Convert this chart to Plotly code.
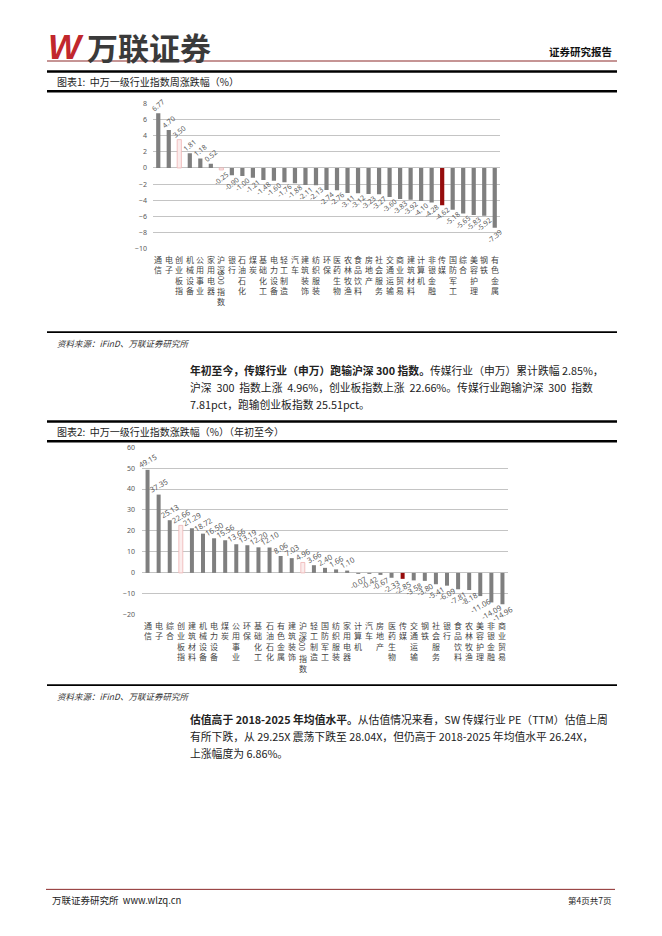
import plotly.graph_objects as go

# page size in px
W, H = 662, 936


def px(x):
    return x / W


def py(y):
    return 1 - y / H


# ---- data: chart 1, weekly change (%) ----
week_names = ['通信', '电子', '创业板指', '机械设备', '公用事业', '家用电器', '沪深300指数',
              '银行', '石油石化', '煤炭', '基础化工', '电力设备', '轻工制造', '汽车',
              '建筑装饰', '纺织服装', '环保', '医药生物', '农林牧渔', '食品饮料', '房地产',
              '社会服务', '交通运输', '商业贸易', '建筑材料', '计算机', '非银金融', '传媒',
              '国防军工', '综合', '美容护理', '钢铁', '有色金属']
week_pct = [6.77, 4.70, 3.50, 1.81, 1.18, 0.52, -0.25, -0.90, -1.00, -1.21, -1.48, -1.60,
            -1.76, -1.88, -2.11, -2.13, -2.74, -2.76, -3.11, -3.12, -3.23, -3.27, -3.60,
            -3.83, -3.92, -4.10, -4.28, -4.62, -5.18, -5.65, -5.83, -5.92, -7.39]

# ---- data: chart 2, year to date (%) ----
ytd_names = ['通信', '电子', '综合', '创业板指', '建筑材料', '机械设备', '电力设备', '煤炭',
             '公用事业', '环保', '基础化工', '石油石化', '有色金属', '建筑装饰', '沪深300指数',
             '轻工制造', '国防军工', '纺织服装', '家用电器', '计算机', '汽车', '房地产',
             '医药生物', '传媒', '交通运输', '钢铁', '社会服务', '银行', '食品饮料',
             '农林牧渔', '美容护理', '非银金融', '商业贸易']
ytd_pct = [49.15, 37.35, 25.13, 22.66, 21.29, 18.72, 16.50, 15.56, 13.66, 13.19, 12.20,
           12.10, 8.06, 7.03, 4.96, 3.66, 2.40, 1.66, 1.10, -0.07, -0.42, -0.67, -2.33,
           -2.85, -3.58, -3.80, -5.41, -6.09, -7.81, -8.18, -11.06, -14.09, -14.96]

INDEXES = ['创业板指', '沪深300指数']
MEDIA = '传媒'

GRAY = '#7f7f7f'
GRID = '#c4c4c4'
LABEL = '#595959'
CJK = 'Noto Sans CJK SC'


def bar_style(names):
    fills, edges, widths = [], [], []
    for n in names:
        if n in INDEXES:
            fills.append('#fbecec')
            edges.append('#efb4b4')
            widths.append(0.8)
        elif n == MEDIA:
            fills.append('#960c0c')
            edges.append('#960c0c')
            widths.append(0)
        else:
            fills.append(GRAY)
            edges.append(GRAY)
            widths.append(0)
    return fills, edges, widths


fig = go.Figure()

f1, e1, w1 = bar_style(week_names)
fig.add_trace(go.Bar(
    x=week_names, y=week_pct, xaxis='x', yaxis='y',
    marker=dict(color=f1, line=dict(color=e1, width=w1)),
    width=0.4,
    texttemplate='%{y:.2f}', textposition='outside', textangle=-40,
    textfont=dict(size=7, color=LABEL, family='Noto Sans'),
    constraintext='none', cliponaxis=False, showlegend=False
))

f2, e2, w2 = bar_style(ytd_names)
fig.add_trace(go.Bar(
    x=ytd_names, y=ytd_pct, xaxis='x2', yaxis='y2',
    marker=dict(color=f2, line=dict(color=e2, width=w2)),
    width=0.36,
    texttemplate='%{y:.2f}', textposition='outside', textangle=-30,
    textfont=dict(size=7.5, color=LABEL, family='Noto Sans'),
    constraintext='none', cliponaxis=False, showlegend=False
))

axis_font = dict(size=7, color=LABEL, family='Noto Sans')

fig.update_layout(
    width=W, height=H, autosize=False,
    margin=dict(l=0, r=0, t=0, b=0),
    paper_bgcolor='white', plot_bgcolor='white',
    font=dict(family=CJK, color='#222222'),
    xaxis=dict(domain=[px(153), px(500)], anchor='y', type='category',
               range=[-0.5, len(week_names) - 0.5], showticklabels=False,
               showgrid=False, zeroline=False, fixedrange=True),
    yaxis=dict(domain=[py(247.3), py(99.7)], anchor='x', range=[-10.05, 8.05],
               tick0=0, dtick=2, showgrid=True, gridcolor=GRID, gridwidth=1,
               zeroline=False, tickfont=axis_font, ticklabelstandoff=5),
    xaxis2=dict(domain=[px(142), px(508)], anchor='y2', type='category',
                range=[-0.5, len(ytd_names) - 0.5], showticklabels=False,
                showgrid=False, zeroline=False, fixedrange=True),
    yaxis2=dict(domain=[py(616.3), py(446.7)], anchor='x2', range=[-20.1, 60.1],
                tick0=0, dtick=10, showgrid=True, gridcolor=GRID, gridwidth=1,
                zeroline=False, tickfont=axis_font, ticklabelstandoff=6),
)

annotations = []
shapes = []


def note(text, x, y, size, xanchor='left', yanchor='middle', color='#222222', **kw):
    annotations.append(dict(text=text, x=px(x), y=py(y), xref='paper', yref='paper',
                            xanchor=xanchor, yanchor=yanchor, showarrow=False,
                            font=dict(size=size, color=color, family=kw.pop('family', CJK)),
                            **kw))


def hline(y, x0, x1, color, width):
    shapes.append(dict(type='line', xref='paper', yref='paper', x0=px(x0), x1=px(x1),
                       y0=py(y), y1=py(y), line=dict(color=color, width=width)))


# vertical category labels under the bars
def category_labels(names, xref, top, hs_rot_y, hs_rest_top):
    for n in names:
        if n == '沪深300指数':
            annotations.append(dict(text='沪<br>深', x=n, xref=xref, y=py(top), yref='paper',
                                    yanchor='top', showarrow=False,
                                    font=dict(size=8, color='#444444', family=CJK)))
            annotations.append(dict(text='300', x=n, xref=xref, y=py(hs_rot_y), yref='paper',
                                    yanchor='middle', showarrow=False, textangle=90,
                                    font=dict(size=8, color='#444444', family=CJK)))
            annotations.append(dict(text='指<br>数', x=n, xref=xref, y=py(hs_rest_top),
                                    yref='paper', yanchor='top', showarrow=False,
                                    font=dict(size=8, color='#444444', family=CJK)))
        else:
            annotations.append(dict(text='<br>'.join(n), x=n, xref=xref, y=py(top),
                                    yref='paper', yanchor='top', showarrow=False,
                                    font=dict(size=8, color='#444444', family=CJK)))


category_labels(week_names, 'x', 250, 277, 282)
category_labels(ytd_names, 'x2', 619, 646, 653)

# header
note('<b><i>W</i></b>', 46, 43, 35, color='#c1272d', family='Liberation Sans')
note('<b>万联证券</b>', 85, 43, 31, color='#3a3a3a')
note('<b>证券研究报告</b>', 614, 48, 10.5, xanchor='right', color='#111111')
hline(57.5, 47, 617, '#8c2a2a', 1)

# chart 1 title box
hline(68, 47, 617, '#000000', 2.5)
note('图表1:  中万一级行业指数周涨跌幅（%）', 55, 78, 10)
hline(88, 47, 617, '#000000', 2.5)

hline(331, 47, 617, '#000000', 1.8)
note('<i>资料来源：iFinD、万联证券研究所</i>', 55, 342, 8.5, color='#333333')

# paragraph 1
note('<b>年初至今，传媒行业（申万）跑输沪深 300 指数。</b>传媒行业（申万）累计跌幅 2.85%，',
     188, 369, 10.8)
note('沪深  300  指数上涨  4.96%，创业板指数上涨  22.66%。传媒行业跑输沪深  300  指数',
     188, 386, 10.8)
note('7.81pct，跑输创业板指数 25.51pct。', 188, 403, 10.8)

# chart 2 title box
hline(421, 47, 617, '#000000', 2.5)
note('图表2:  中万一级行业指数涨跌幅（%）（年初至今）', 55, 431, 10)
hline(441, 47, 617, '#000000', 2.5)

hline(687, 47, 617, '#000000', 1.8)
note('<i>资料来源：iFinD、万联证券研究所</i>', 55, 698, 8.5, color='#333333')

# paragraph 2
note('<b>估值高于 2018-2025 年均值水平。</b>从估值情况来看，SW 传媒行业 PE（TTM）估值上周',
     188, 721, 10.8)
note('有所下跌，从 29.25X 震荡下跌至 28.04X，但仍高于 2018-2025 年均值水平 26.24X，',
     188, 738, 10.8)
note('上涨幅度为 6.86%。', 188, 755, 10.8)

# footer
hline(893, 46, 615, '#8c2a2a', 1)
note('万联证券研究所  www.wlzq.cn', 50, 904, 9.5, color='#222222')
note('第4页共7页', 613, 904, 8.5, xanchor='right', color='#222222')

fig.update_layout(annotations=annotations, shapes=shapes)

# the page default body margin would shift the whole picture
fig.write_html("out.html", config={'displayModeBar': False},
               post_script="document.body.style.margin='0';")
